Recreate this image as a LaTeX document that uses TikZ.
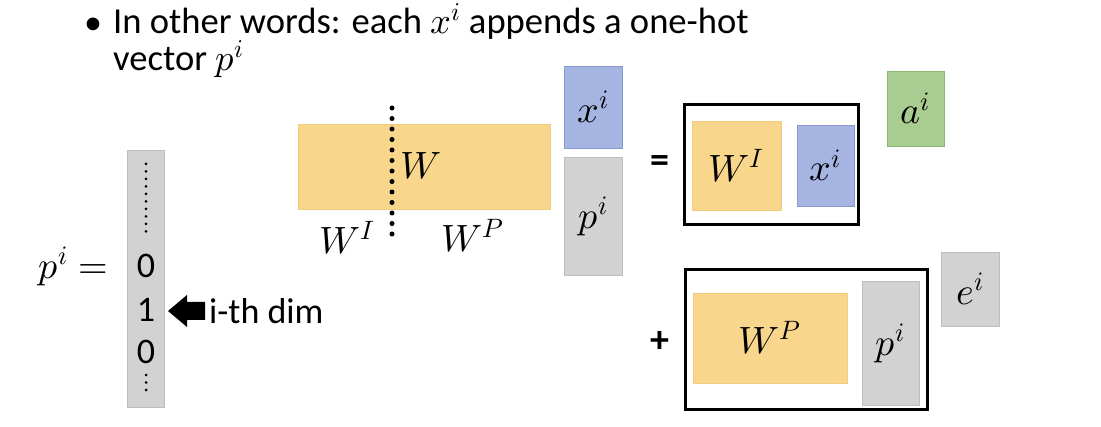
\documentclass[tikz,border=0pt]{standalone}
\usepackage{fontspec}
\usepackage{unicode-math}
\setmainfont{Carlito}
\setmathfont{Latin Modern Math}
\definecolor{yelF}{HTML}{F8D68C}
\definecolor{yelD}{HTML}{F2CC7A}
\definecolor{bluF}{HTML}{A6B4E2}
\definecolor{bluD}{HTML}{8799D2}
\definecolor{gryF}{HTML}{D2D2D2}
\definecolor{gryD}{HTML}{BDBDBD}
\definecolor{grnF}{HTML}{A9CC90}
\definecolor{grnD}{HTML}{8DB774}
\begin{document}
\begin{tikzpicture}[x=1pt,y=-1pt,
  ybox/.style={fill=yelF,draw=yelD,line width=0.8pt,inner sep=0pt},
  bbox/.style={fill=bluF,draw=bluD,line width=0.8pt,inner sep=0pt},
  gbox/.style={fill=gryF,draw=gryD,line width=0.8pt,inner sep=0pt},
  nbox/.style={fill=grnF,draw=grnD,line width=0.8pt,inner sep=0pt},
  frame/.style={draw=black,line width=3pt,fill=none,inner sep=0pt},
  mlab/.style={font=\fontsize{38}{44}\selectfont,inner sep=0pt},
  txt/.style={font=\fontsize{36}{42}\selectfont,inner sep=0pt},
  dotline/.style={line width=5pt,dash pattern=on 0pt off 10.5pt,line cap=round}
]
\useasboundingbox (0,0) rectangle (1101,427);
% heading
\node[txt,anchor=base west] (bul) at (84,35) {\textbullet};
\node[font=\fontsize{36.6}{36}\selectfont,inner sep=0pt,align=left,anchor=base west] (l1) at (113,71)
  {In other words: each $x^i$ appends a one-hot\\vector $p^i$};
% W matrix
\node[ybox,minimum width=252pt,minimum height=85pt] (W) at (424,166.5) {};
\coordinate (dt) at (392,108);
\coordinate (db) at (392,236);
\draw[dotline] (dt) -- (db);
\node[mlab] (Wl) at (421,166) {$W$};
\node[mlab] (WI) at (347,238) {$W^I$};
\node[mlab] (WP) at (473,236) {$W^P$};
\node[bbox,minimum width=58pt,minimum height=82pt] (x1) at (593,107) {};
\node[mlab] at (x1) {$x^i$};
\node[gbox,minimum width=58pt,minimum height=118pt] (p1) at (593,216) {};
\node[mlab] at (p1) {$p^i$};
\node[font=\fontsize{38}{44}\selectfont\bfseries,inner sep=0pt] (eq) at (660,164) {=};
% top frame
\node[frame,minimum width=174pt,minimum height=120pt] (F1) at (771,165) {};
\node[ybox,minimum width=89pt,minimum height=89pt] (WI2) at (736.5,165.5) {};
\node[mlab] at (WI2) {$W^I$};
\node[bbox,minimum width=57pt,minimum height=81pt] (x2) at (825.5,165.5) {};
\node[mlab] at (x2) {$x^i$};
\node[nbox,minimum width=57pt,minimum height=75pt] (a) at (915.5,108.5) {};
\node[mlab] at (a) {$a^i$};
% bottom frame
\node[font=\fontsize{38}{44}\selectfont\bfseries,inner sep=0pt] (pl) at (660,342) {+};
\node[frame,minimum width=242pt,minimum height=140pt] (F2) at (806,340) {};
\node[ybox,minimum width=154pt,minimum height=90pt] (WP2) at (770,338) {};
\node[mlab] at (WP2) {$W^P$};
\node[gbox,minimum width=57pt,minimum height=124pt] (p2) at (890.5,343) {};
\node[mlab] at (p2) {$p^i$};
\node[gbox,minimum width=58pt,minimum height=74pt] (e) at (970,289) {};
\node[mlab] at (e) {$e^i$};
% left one-hot vector
\node[mlab,anchor=east] (pe) at (108,266) {$p^i =$};
\node[gbox,minimum width=37pt,minimum height=257pt] (col) at (145.5,278.5) {};
\coordinate (ct) at (146,164);
\coordinate (cb) at (146,232);
\draw[line width=3pt,dash pattern=on 0pt off 7.5pt,line cap=round] (ct) -- (cb);
\node[txt] (z1) at (146,266) {0};
\node[txt] (o1) at (146,310) {1};
\node[txt] (z2) at (146,352) {0};
\coordinate (vt) at (146,375);
\coordinate (vb) at (146,393);
\draw[line width=3pt,dash pattern=on 0pt off 7.5pt,line cap=round] (vt) -- (vb);
\fill[black] (168,311) -- (187,295) -- (187,302) -- (205,302) -- (205,320) -- (187,320) -- (187,327) -- cycle;
\node[txt,anchor=west] (dim) at (209,311) {i-th dim};
\end{tikzpicture}
\end{document}
